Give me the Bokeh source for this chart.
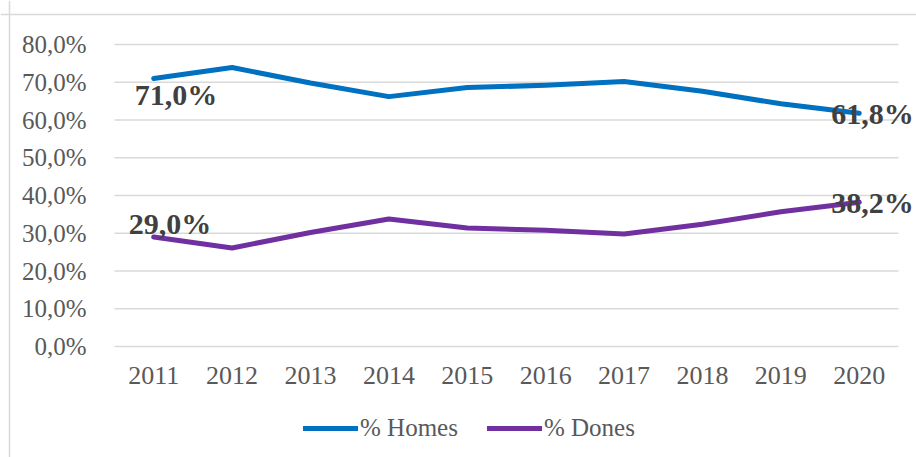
from bokeh.plotting import figure
from bokeh.models import (ColumnDataSource, Range1d, FixedTicker, Span,
                          Legend, LegendItem, LabelSet)
from bokeh.embed import file_html
from bokeh.resources import INLINE

years = ["2011", "2012", "2013", "2014", "2015", "2016", "2017", "2018", "2019", "2020"]
homes = [71.0, 73.9, 69.8, 66.2, 68.6, 69.2, 70.2, 67.6, 64.3, 61.8]
dones = [29.0, 26.1, 30.2, 33.8, 31.4, 30.8, 29.8, 32.4, 35.7, 38.2]
y_ticks = [0, 10, 20, 30, 40, 50, 60, 70, 80]
y_tick_labels = ["0,0%", "10,0%", "20,0%", "30,0%", "40,0%", "50,0%", "60,0%", "70,0%", "80,0%"]

BLUE = "#0070C0"
PURPLE = "#7030A0"
GRID = "#d9d9d9"
FONT = "Liberation Serif"

pos = list(range(1, len(years) + 1))

# the frame covers the whole canvas; axes are pinned inside it
p = figure(width=916, height=457, x_range=Range1d(-0.954, 10.73),
           y_range=Range1d(-29.4, 91.66), output_backend="svg", toolbar_location=None,
           min_border=0)
p.outline_line_color = None
p.background_fill_color = "white"
p.border_fill_color = "white"

# chart-area border (top and left)
p.add_layout(Span(location=87.95, dimension="width", line_color=GRID, line_width=1.5))
p.add_layout(Span(location=-0.839, dimension="height", line_color=GRID, line_width=1.5))

# gridlines limited to the category span
p.segment(x0=[0.5] * len(y_ticks), x1=[len(years) + 0.5] * len(y_ticks),
          y0=y_ticks, y1=y_ticks, line_color=GRID, line_width=1.5)

src = ColumnDataSource(dict(x=pos, homes=homes, dones=dones))
r1 = p.line("x", "homes", source=src, line_color=BLUE, line_width=5, line_cap="round", line_join="round")
r2 = p.line("x", "dones", source=src, line_color=PURPLE, line_width=5, line_cap="round", line_join="round")

# axes
p.yaxis.ticker = FixedTicker(ticks=y_ticks)
p.yaxis.major_label_overrides = {t: l for t, l in zip(y_ticks, y_tick_labels)}
p.xaxis.ticker = FixedTicker(ticks=pos)
p.xaxis.major_label_overrides = {i: y for i, y in zip(pos, years)}
for ax in (p.xaxis[0], p.yaxis[0]):
    ax.major_tick_line_color = None
    ax.minor_tick_line_color = None
    ax.axis_line_color = None
    ax.major_label_text_font = FONT
    ax.major_label_text_font_size = "25px"
    ax.major_label_text_color = "#595959"
p.xaxis.major_label_text_font_size = "26px"
p.yaxis.fixed_location = 0.5
p.xaxis.fixed_location = 0
p.yaxis.major_label_standoff = 22
p.xaxis.major_label_standoff = 14
p.xgrid.grid_line_color = None
p.ygrid.grid_line_color = None

# data labels (first and last points)
idx = [0, len(years) - 1]
def fmt(v):
    return ("%.1f%%" % v).replace(".", ",")
lab_homes = ColumnDataSource(dict(x=[pos[i] for i in idx], y=[homes[i] for i in idx],
                                  t=[fmt(homes[i]) for i in idx],
                                  dx=[-19, -28], dy=[-16, 0]))
lab_dones = ColumnDataSource(dict(x=[pos[i] for i in idx], y=[dones[i] for i in idx],
                                  t=[fmt(dones[i]) for i in idx],
                                  dx=[-25, -28], dy=[14, 0]))
for s in (lab_homes, lab_dones):
    ls = LabelSet(x="x", y="y", text="t", source=s, x_offset="dx", y_offset="dy",
                  text_font=FONT, text_font_size="30px", text_font_style="bold",
                  text_color="#404040", text_align="left", text_baseline="middle")
    p.add_layout(ls)

legend = Legend(items=[LegendItem(label="% Homes", renderers=[r1]),
                       LegendItem(label="% Dones", renderers=[r2])],
                orientation="horizontal", location=(303, 15),
                label_text_font=FONT, label_text_font_size="25px",
                label_text_color="#595959", glyph_width=55, glyph_height=24,
                label_standoff=2, spacing=29, padding=0, margin=0,
                border_line_color=None, background_fill_alpha=0)
p.add_layout(legend, "center")

open("out.html", "w").write(file_html(p, INLINE))
